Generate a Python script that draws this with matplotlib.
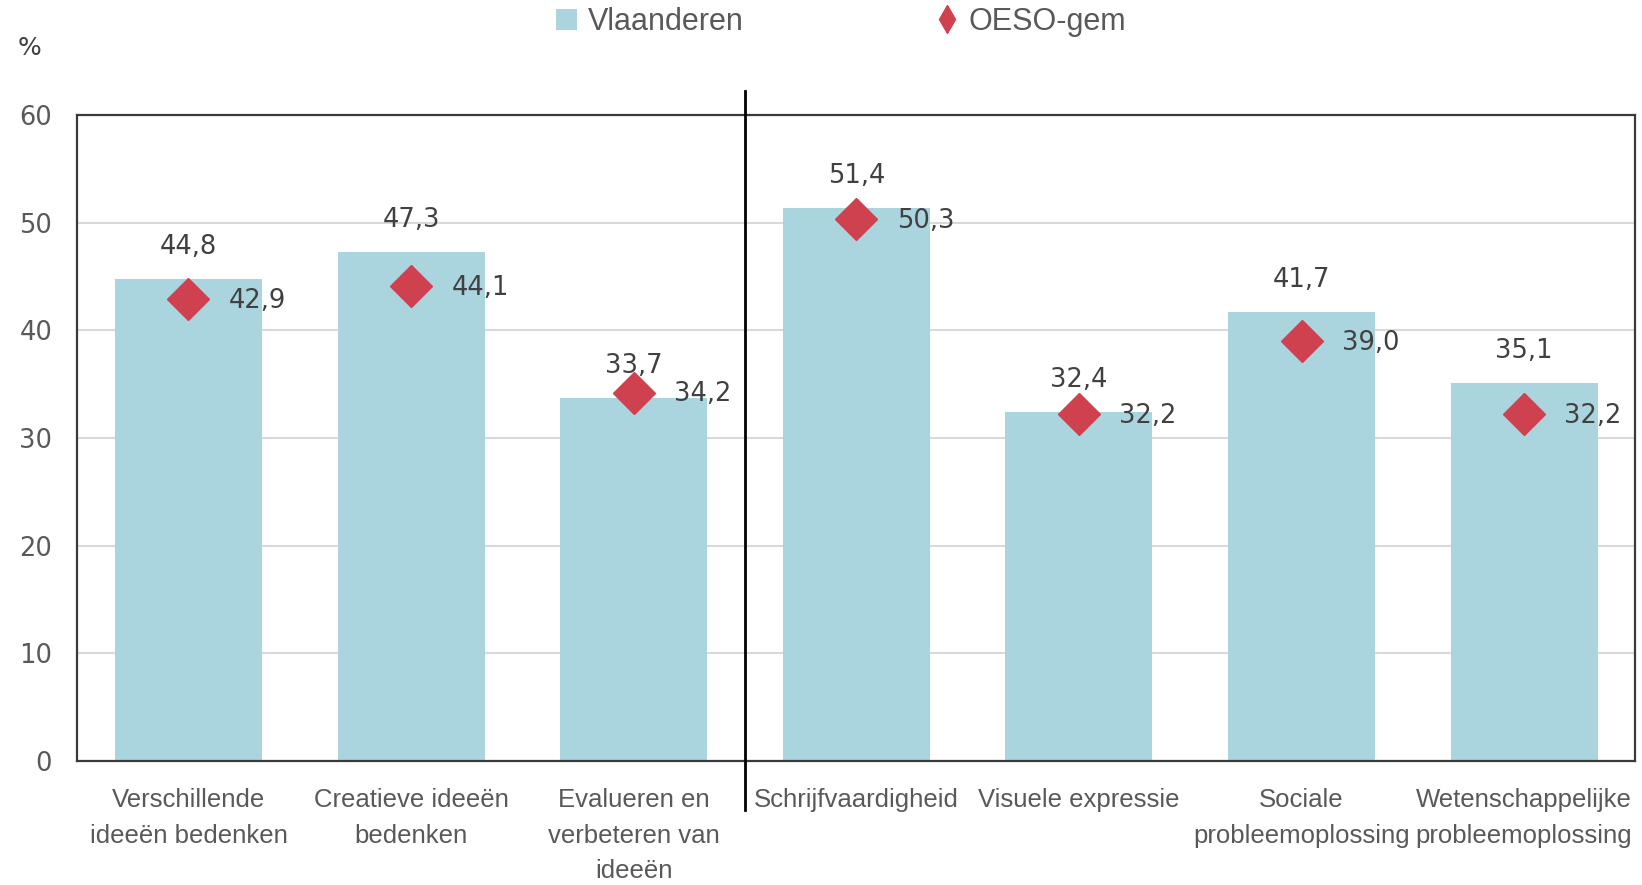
import matplotlib.pyplot as plt
from matplotlib.lines import Line2D
from matplotlib.patches import Patch

categories = [
    "Verschillende\nideeën bedenken",
    "Creatieve ideeën\nbedenken",
    "Evalueren en\nverbeteren van\nideeën",
    "Schrijfvaardigheid",
    "Visuele expressie",
    "Sociale\nprobleemoplossing",
    "Wetenschappelijke\nprobleemoplossing",
]
vlaanderen = [44.8, 47.3, 33.7, 51.4, 32.4, 41.7, 35.1]
oeso = [42.9, 44.1, 34.2, 50.3, 32.2, 39.0, 32.2]
n_first_group = 3
yticks = [0, 10, 20, 30, 40, 50, 60]

bar_color = "#AAD5DE"
dot_color = "#D0414F"
text_color = "#404040"

plt.rcParams["font.family"] = ["DejaVu Sans"]
label_font = ["Liberation Sans", "DejaVu Sans"]


def fmt(v):
    return f"{v:.1f}".replace(".", ",")


fig = plt.figure(figsize=(16.42, 8.85), dpi=100)
ax = fig.add_axes([0.047, 0.140, 0.949, 0.730])

x = list(range(len(categories)))
ax.bar(x, vlaanderen, width=0.66, color=bar_color, zorder=2)
ax.plot(x, oeso, linestyle="none", marker="D", markersize=21,
        color=dot_color, zorder=3)

for xi, v in zip(x, vlaanderen):
    ax.annotate(fmt(v), (xi, v), xytext=(0, 13.5), textcoords="offset points",
                ha="center", va="bottom", fontsize=18.5, color=text_color, zorder=4)
for xi, v in zip(x, oeso):
    ax.annotate(fmt(v), (xi, v), xytext=(29, -1), textcoords="offset points",
                ha="left", va="center", fontsize=18.5, color=text_color, zorder=4)

ax.set_xlim(-0.5, len(categories) - 0.5)
ax.set_ylim(0, 60)
ax.set_yticks(yticks)
ax.set_yticklabels([str(t) for t in yticks], fontsize=18.5, color="#595959")
ax.set_xticks(x)
ax.set_xticklabels(categories, fontsize=18.5, color="#595959",
                   family=label_font, linespacing=1.6)
ax.tick_params(axis="both", length=0)
ax.tick_params(axis="y", pad=18)
ax.tick_params(axis="x", pad=19.5)
ax.grid(axis="y", color="#D9D9D9", linewidth=1.5, zorder=0)
ax.set_axisbelow(True)
for s in ax.spines.values():
    s.set_color("#3a3a3a")
    s.set_linewidth(1.6)

# separator between the two groups
sep = n_first_group - 0.5
ax.plot([sep, sep], [-4.5, 62.2], color="black", linewidth=2, clip_on=False, zorder=5)

fig.text(0.018, 0.946, "%", fontsize=18, color=text_color, va="center", ha="center")

handles = [
    Patch(facecolor=bar_color, edgecolor="none", label="Vlaanderen"),
    Line2D([], [], linestyle="none", marker="d", markersize=14,
           color=dot_color, label="OESO-gem"),
]
fig.legend(handles=handles, loc="center", bbox_to_anchor=(0.512, 0.975), ncol=2,
           frameon=False, prop={"family": label_font, "size": 22},
           labelcolor="#595959", columnspacing=6.3, handlelength=0.7,
           handletextpad=0.35)

fig.savefig("out.png", dpi=100)
